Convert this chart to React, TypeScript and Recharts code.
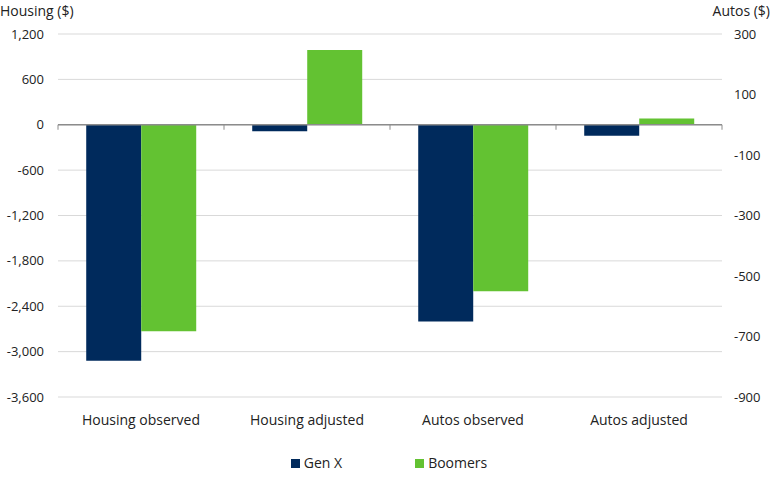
import { BarChart, Bar, XAxis, YAxis, CartesianGrid, ReferenceLine } from "recharts"

const categories = ["Housing observed", "Housing adjusted", "Autos observed", "Autos adjusted"]

// housing values read on the left axis, autos on the right axis
const housingGenX = [-3120, -85, null, null]
const housingBoomers = [-2730, 990, null, null]
const autosGenX = [null, null, -650, -36]
const autosBoomers = [null, null, -550, 21]

const housingTicks = [-3600, -3000, -2400, -1800, -1200, -600, 0, 600, 1200]
const autosTicks = [-900, -700, -500, -300, -100, 100, 300]

const seriesNames = ["Gen X", "Boomers"]

const NAVY = "#002a5c"
const GREEN = "#63c232"
const FONT = "'Open Sans', 'Noto Sans', sans-serif"

const data = categories.map((name, i) => ({
  name,
  hGenX: housingGenX[i],
  hBoomers: housingBoomers[i],
  aGenX: autosGenX[i],
  aBoomers: autosBoomers[i],
}))

const fmt = (v: number) => v.toLocaleString("en-US")

// zero line with small ticks hanging at the category boundaries
function ZeroLine(props: any) {
  const { x1, y1, x2 } = props
  const n = categories.length
  const step = (x2 - x1) / n
  return (
    <g>
      <line x1={x1} y1={y1} x2={x2} y2={y1} stroke="#8c8c8c" strokeWidth={1.5} />
      {Array.from({ length: n + 1 }, (_, i) => (
        <line key={i} x1={x1 + i * step} y1={y1} x2={x1 + i * step} y2={y1 + 5} stroke="#8c8c8c" strokeWidth={1} />
      ))}
    </g>
  )
}

function LegendBox() {
  const colors = [NAVY, GREEN]
  return (
    <div
      style={{
        position: "absolute",
        left: 4,
        width: 770,
        top: 453,
        display: "flex",
        justifyContent: "center",
        gap: 73,
        fontFamily: FONT,
        fontSize: 14,
        color: "#222",
        lineHeight: "20px",
      }}
    >
      {seriesNames.map((label, i) => (
        <div key={label} style={{ display: "flex", alignItems: "center" }}>
          <span style={{ display: "inline-block", width: 9, height: 9, background: colors[i], marginRight: 4 }} />
          {label}
        </div>
      ))}
    </div>
  )
}

export default function App() {
  const tickStyle = { fontSize: 13, fill: "#222", fontFamily: FONT }
  const catStyle = { fontSize: 14, fill: "#222", fontFamily: FONT }
  return (
    <div style={{ position: "absolute", left: 0, top: 0, width: 770, height: 477, background: "#fff" }}>
      <div style={{ position: "absolute", left: 0, top: 1, fontFamily: FONT, fontSize: 14, color: "#222" }}>
        Housing ($)
      </div>
      <div style={{ position: "absolute", right: 0, top: 1, fontFamily: FONT, fontSize: 14, color: "#222" }}>
        Autos ($)
      </div>
      <BarChart
        width={770}
        height={477}
        data={data}
        margin={{ top: 34, right: 0, bottom: 24, left: 8 }}
        barGap={0}
        barCategoryGap="17%"
      >
        <CartesianGrid vertical={false} stroke="#d9d9d9" xAxisId="h" yAxisId="left" />
        <XAxis
          xAxisId="h"
          dataKey="name"
          axisLine={false}
          tickLine={false}
          tickSize={0}
          tickMargin={18}
          tick={catStyle}
          height={56}
        />
        <XAxis xAxisId="a" dataKey="name" hide height={0} orientation="top" />
        <YAxis
          yAxisId="left"
          domain={[-3600, 1200]}
          ticks={housingTicks}
          tickFormatter={fmt}
          axisLine={false}
          tickLine={false}
          tickSize={0}
          tickMargin={14}
          width={50}
          tick={tickStyle}
        />
        <YAxis
          yAxisId="right"
          orientation="right"
          domain={[-900, 300]}
          ticks={autosTicks}
          tickFormatter={fmt}
          axisLine={false}
          tickLine={false}
          tickSize={0}
          tickMargin={12}
          width={48}
          tick={tickStyle}
        />
        <ReferenceLine y={0} xAxisId="h" yAxisId="left" shape={ZeroLine} />
        <Bar xAxisId="h" yAxisId="left" dataKey="hGenX" name={seriesNames[0]} fill={NAVY} isAnimationActive={false} />
        <Bar xAxisId="h" yAxisId="left" dataKey="hBoomers" name={seriesNames[1]} fill={GREEN} isAnimationActive={false} />
        <Bar xAxisId="a" yAxisId="right" dataKey="aGenX" name={seriesNames[0]} fill={NAVY} isAnimationActive={false} />
        <Bar xAxisId="a" yAxisId="right" dataKey="aBoomers" name={seriesNames[1]} fill={GREEN} isAnimationActive={false} />
      </BarChart>
      <LegendBox />
    </div>
  )
}
